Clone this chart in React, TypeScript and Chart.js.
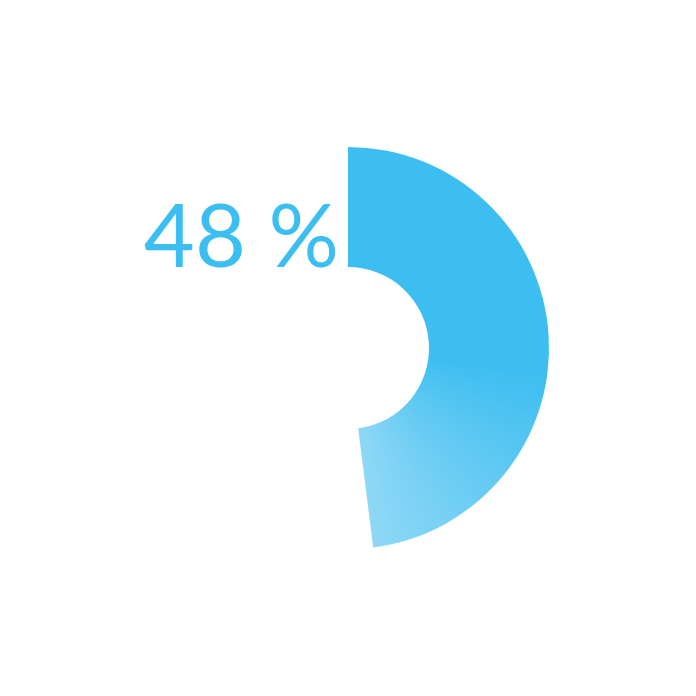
import React, { useEffect, useRef } from "react";
import { Chart, registerables } from "chart.js";
Chart.register(...registerables);

const labels = ["Done", "Rest"];
const values = [48, 52];
const centerLabel = "48 %";

const App = () => {
  const canvasRef = useRef<HTMLCanvasElement>(null);

  useEffect(() => {
    const ctx = canvasRef.current!.getContext("2d")!;

    const fillFor = (context: any) => {
      if (context.dataIndex !== 0) return "rgba(0,0,0,0)";
      const chart = context.chart;
      const area = chart.chartArea;
      if (!area) return "#3dbef0";
      const cx = (area.left + area.right) / 2;
      const cy = (area.top + area.bottom) / 2;
      // fade along the arc, starting from 12 o'clock
      const g = chart.ctx.createConicGradient(-Math.PI / 2, cx, cy);
      g.addColorStop(0, "#3dbef0");
      g.addColorStop(0.27, "#3dbef0");
      g.addColorStop(0.48, "#8fd8f6");
      g.addColorStop(1, "#8fd8f6");
      return g;
    };

    // draws the percentage text next to the hole
    const textPlugin = {
      id: "centerText",
      afterDraw(chart: any) {
        const arc = chart.getDatasetMeta(0).data[0];
        if (!arc) return;
        const c = chart.ctx;
        c.save();
        c.font = "400 88px Lato";
        c.fillStyle = "#3dbef0";
        c.textAlign = "right";
        c.textBaseline = "alphabetic";
        c.fillText(centerLabel, arc.x - 9, arc.y - arc.innerRadius);
        c.restore();
      },
    };

    const myChart = new Chart(ctx, {
      type: "doughnut",
      data: {
        labels,
        datasets: [
          {
            data: values,
            backgroundColor: fillFor,
            borderWidth: 0,
            hoverOffset: 0,
          },
        ],
      },
      options: {
        animation: false,
        responsive: true,
        maintainAspectRatio: false,
        radius: 201,
        cutout: "40.3%",
        plugins: {
          legend: { display: false },
          tooltip: { enabled: false },
        },
      },
      plugins: [textPlugin],
    } as any);

    return () => myChart.destroy();
  }, []);

  return (
    <div style={{ width: 680, height: 680, position: "relative" }}>
      <canvas ref={canvasRef}></canvas>
    </div>
  );
};

export default App;
